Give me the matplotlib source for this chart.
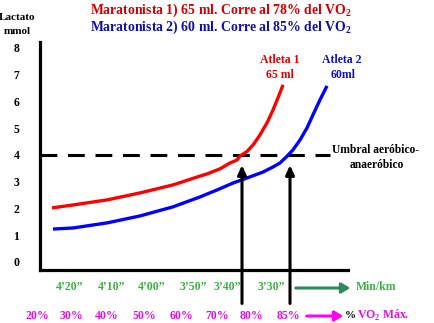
import matplotlib
matplotlib.use("Agg")
import matplotlib.pyplot as plt

plt.rcParams['font.family'] = ['Liberation Serif', 'DejaVu Serif']
plt.rcParams['font.weight'] = 'bold'
plt.rcParams['mathtext.fontset'] = 'custom'
plt.rcParams['mathtext.rm'] = 'Liberation Serif:bold'
plt.rcParams['mathtext.bf'] = 'Liberation Serif:bold'

# ---- data ----
lactate_ticks = [0, 1, 2, 3, 4, 5, 6, 7, 8]
threshold = 4

# x in horizontal chart units (0 = y-axis), lactate in mmol
red_x = [12, 33, 67, 100, 133, 160, 167, 180, 190, 197, 200, 207, 213, 220, 227, 233, 240, 243]
red_y = [2.02, 2.13, 2.32, 2.58, 2.88, 3.21, 3.29, 3.48, 3.70, 3.81, 3.96, 4.13, 4.37, 4.75,
         5.20, 5.68, 6.32, 6.62]
blue_x = [13, 33, 67, 100, 133, 160, 177, 193, 210, 223, 233, 240, 247, 253, 260, 267, 273, 280, 287]
blue_y = [1.23, 1.27, 1.46, 1.72, 2.06, 2.43, 2.69, 2.95, 3.18, 3.36, 3.55, 3.70, 3.95, 4.19,
          4.56, 5.01, 5.50, 6.06, 6.58]
arrow_x = [202, 250]

pace_labels = ["4\u201920\u201d", "4\u201910\u201d", "4\u201900\u201d", "3\u201950\u201d", "3\u201940\u201d", "3\u201930\u201d"]
pace_pos = [30, 72, 112, 153, 187, 231]
vo2_labels = ["20%", "30%", "40%", "50%", "60%", "70%", "80%", "85%"]
vo2_pos = [-3, 31, 67, 104, 141, 177, 211, 248]

W, H = 434, 323
fig = plt.figure(figsize=(W / 100, H / 100), dpi=100)
ax = fig.add_axes([40 / W, (H - 270) / H, (348 - 40) / W, (270 - 42) / H])
ax.set_xlim(0, 308)
ax.set_ylim(-0.30, 8.22)

for s in ['top', 'right']:
    ax.spines[s].set_visible(False)
for s in ['left', 'bottom']:
    ax.spines[s].set_linewidth(2.3)

ax.set_xticks([])
ax.set_yticks(lactate_ticks)
ax.set_yticklabels([str(t) for t in lactate_ticks], fontsize=8.5, fontweight='bold', ha='center')
ax.tick_params(axis='y', length=0, pad=17)

ax.plot(red_x, red_y, color='#FF0000', lw=2.4, solid_capstyle='butt', solid_joinstyle='round', zorder=3)
ax.plot(blue_x, blue_y, color='#0000FF', lw=2.4, solid_capstyle='butt', solid_joinstyle='round', zorder=3)

ax.plot([0, 290], [threshold, threshold], color='black', lw=2.2, dashes=(5.5, 3.5), zorder=2)

for xa in arrow_x:
    ax.annotate('', xy=(xa, 3.62), xytext=(xa, -1.55), annotation_clip=False,
                arrowprops=dict(arrowstyle='-|>,head_length=0.55,head_width=0.25',
                                color='black', lw=2.2, shrinkA=0, shrinkB=0), zorder=4)

def ftext(px, py, s, **kw):
    fig.text(px / W, 1 - py / H, s, fontweight='bold', **kw)

# titles
ftext(90, 10, "Maratonista 1) 65 ml. Corre al 78% del VO$_\\mathbf{2}$", color='#D00000',
      fontsize=9.9, ha='left', va='center')
ftext(90, 27, "Maratonista 2) 60 ml. Corre al 85% del VO$_\\mathbf{2}$", color='#1010A8',
      fontsize=9.9, ha='left', va='center')

# y label
ftext(17, 18, "Lactato", fontsize=8, ha='center', va='center')
ftext(17, 32, "mmol", fontsize=8, ha='center', va='center')

# athlete labels
ftext(280, 60, "Atleta 1", color='#E00000', fontsize=8.5, ha='center', va='center')
ftext(280, 75, "65 ml", color='#E00000', fontsize=8.5, ha='center', va='center')
ftext(342, 60, "Atleta 2", color='#1010C0', fontsize=8.5, ha='center', va='center')
ftext(343, 75, "60ml", color='#1010C0', fontsize=8.5, ha='center', va='center')

# threshold label
ftext(332, 150, "Umbral aeróbico-", fontsize=8.3, ha='left', va='center')
ftext(377, 165, "anaeróbico", fontsize=8.3, ha='center', va='center')

# pace labels
for lab, p in zip(pace_labels, pace_pos):
    ftext(40 + p, 287, lab, color='#3CB043', fontsize=8.5, ha='center', va='center')
fig.add_artist(matplotlib.patches.FancyArrowPatch(
    (293 / W, 1 - 288 / H), (353 / W, 1 - 288 / H), transform=fig.transFigure,
    arrowstyle='-|>,head_length=5,head_width=3', color='#2E8B57', lw=2.2, mutation_scale=1))
ftext(356, 287, "Min/km", color='#3CB043', fontsize=8.5, ha='left', va='center')

# VO2 labels
for lab, p in zip(vo2_labels, vo2_pos):
    ftext(40 + p, 316, lab, color='#E010E0', fontsize=8.5, ha='center', va='center')
fig.add_artist(matplotlib.patches.FancyArrowPatch(
    (304 / W, 1 - 316 / H), (346 / W, 1 - 316 / H), transform=fig.transFigure,
    arrowstyle='-|>,head_length=5,head_width=3', color='#FF00FF', lw=2.2, mutation_scale=1))
ftext(345, 316, "%", color='black', fontsize=8, ha='left', va='center')
ftext(357, 315, "VO$_\\mathbf{2}$ Máx.", color='#E010E0', fontsize=8.5, ha='left', va='center')

fig.savefig("out.png", dpi=100)
